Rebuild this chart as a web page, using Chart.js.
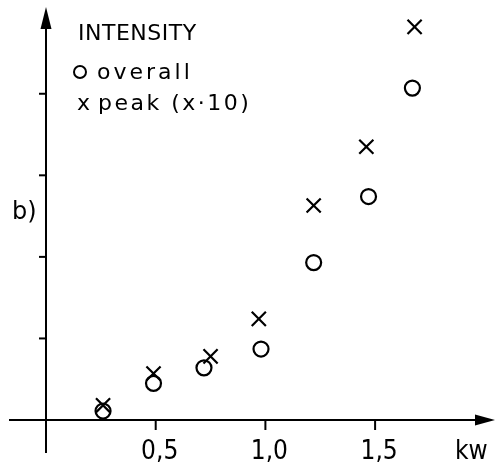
<!DOCTYPE html>
<html>
<head>
<meta charset="utf-8">
<style>
  html, body { margin: 0; padding: 0; background: #fff; }
</style>
</head>
<body>
<canvas id="myChart" width="497" height="472"></canvas>
<script src="https://cdn.jsdelivr.net/npm/chart.js@4"></script>
<script>
// intensity vs power (kw)
const overall_kw = [0.26, 0.49, 0.72, 0.98, 1.22, 1.47, 1.67];
const overall = [0.11, 0.45, 0.64, 0.87, 1.93, 2.74, 4.07];
const peak_kw = [0.26, 0.49, 0.75, 0.97, 1.22, 1.46, 1.68];
const peak = [0.18, 0.57, 0.78, 1.24, 2.63, 3.35, 4.82];
const x_ticks = [0.5, 1.0, 1.5];
const y_ticks = [1, 2, 3, 4];

const legendTitle = "INTENSITY";
const panelLabel = "b)";
const xUnit = "kw";

const labelFont = "26px 'DejaVu Sans Condensed', 'DejaVu Sans', sans-serif";
const legendFont = "22px 'DejaVu Sans', sans-serif";

function toPoints(xs, ys) {
  return xs.map((x, i) => ({ x: x, y: ys[i] }));
}

const axesPlugin = {
  id: "axes",
  beforeDatasetsDraw(chart) {
    const ctx = chart.ctx;
    const xs = chart.scales.x;
    const ys = chart.scales.y;
    const x0 = xs.getPixelForValue(0);
    const y0 = ys.getPixelForValue(0);
    const right = chart.width - 2;

    ctx.save();
    ctx.strokeStyle = "#000";
    ctx.fillStyle = "#000";
    ctx.lineWidth = 2;

    // x axis with arrow
    ctx.beginPath();
    ctx.moveTo(x0 - 37, y0);
    ctx.lineTo(right - 15, y0);
    ctx.stroke();
    ctx.beginPath();
    ctx.moveTo(right, y0);
    ctx.lineTo(right - 20, y0 - 5.5);
    ctx.lineTo(right - 20, y0 + 5.5);
    ctx.closePath();
    ctx.fill();

    // y axis with arrow
    ctx.beginPath();
    ctx.moveTo(x0, y0 + 33);
    ctx.lineTo(x0, 20);
    ctx.stroke();
    ctx.beginPath();
    ctx.moveTo(x0, 7);
    ctx.lineTo(x0 - 5.5, 29);
    ctx.lineTo(x0 + 5.5, 29);
    ctx.closePath();
    ctx.fill();

    // ticks
    for (const t of x_ticks) {
      const px = xs.getPixelForValue(t);
      ctx.beginPath();
      ctx.moveTo(px, y0);
      ctx.lineTo(px, y0 + 10);
      ctx.stroke();
    }
    for (const t of y_ticks) {
      const py = ys.getPixelForValue(t);
      ctx.beginPath();
      ctx.moveTo(x0 - 7, py);
      ctx.lineTo(x0, py);
      ctx.stroke();
    }

    // tick labels
    ctx.font = labelFont;
    ctx.textAlign = "center";
    ctx.textBaseline = "alphabetic";
    for (const t of x_ticks) {
      const px = xs.getPixelForValue(t);
      ctx.fillText(t.toFixed(1).replace(".", ","), px + 4, y0 + 39);
    }
    ctx.textAlign = "left";
    ctx.fillText(xUnit, 455, y0 + 39);

    ctx.font = "24px 'DejaVu Sans', sans-serif";
    ctx.fillText(panelLabel, 12, 219);

    // legend
    ctx.font = legendFont;
    ctx.letterSpacing = "0.5px";
    ctx.fillText(legendTitle, 78, 40);
    const ds = chart.data.datasets;
    ctx.beginPath();
    ctx.arc(80, 72, 6, 0, Math.PI * 2);
    ctx.stroke();
    ctx.letterSpacing = "3px";
    ctx.fillText(ds[0].label, 97, 79);
    ctx.letterSpacing = "2.5px";
    ctx.fillText("x", 77, 110);
    ctx.fillText(ds[1].label, 98, 110);
    ctx.restore();
  }
};

const myChart = new Chart("myChart", {
  type: "scatter",
  data: {
    datasets: [
      {
        label: "overall",
        data: toPoints(overall_kw, overall),
        pointStyle: "circle",
        pointRadius: 7.5,
        borderColor: "#000",
        backgroundColor: "rgba(0,0,0,0)",
        borderWidth: 2.2,
      },
      {
        label: "peak (x·10)",
        data: toPoints(peak_kw, peak),
        pointStyle: "crossRot",
        pointRadius: 10,
        borderColor: "#000",
        backgroundColor: "#000",
        borderWidth: 2.2,
      },
    ],
  },
  options: {
    responsive: false,
    animation: false,
    layout: { padding: { left: 46, top: 5, right: 8, bottom: 52 } },
    scales: {
      x: { type: "linear", display: false, min: 0, max: 2 },
      y: { type: "linear", display: false, min: 0, max: 5 },
    },
    plugins: {
      legend: { display: false },
      tooltip: { enabled: false },
    },
  },
  plugins: [axesPlugin],
});
</script>
</body>
</html>
